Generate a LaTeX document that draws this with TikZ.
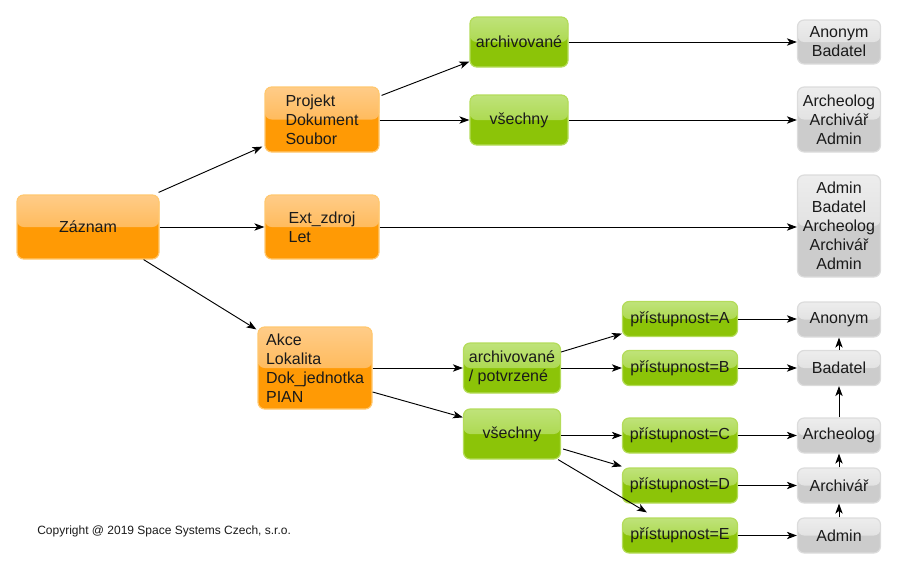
\documentclass[tikz,border=0pt]{standalone}
\usepackage{fontspec}
\setmainfont{Liberation Sans}
\usetikzlibrary{arrows.meta,calc}
\definecolor{orTop}{HTML}{FFCC88}
\definecolor{orMid}{HTML}{FFAA33}
\definecolor{orBot}{HTML}{FF9A05}
\definecolor{orLine}{HTML}{FFC870}
\definecolor{grTop}{HTML}{BFE37A}
\definecolor{grMid}{HTML}{9CD02A}
\definecolor{grBot}{HTML}{8CC408}
\definecolor{grLine}{HTML}{B4DC5A}
\definecolor{gyTop}{HTML}{EDEDED}
\definecolor{gyMid}{HTML}{D8D8D8}
\definecolor{gyBot}{HTML}{CCCCCC}
\definecolor{gyLine}{HTML}{DCDCDC}
\definecolor{txt}{HTML}{1A1A1A}
\tikzset{
  sz/.style 2 args={minimum width=#1*0.75pt, minimum height=#2*0.75pt},
  box/.style={rounded corners=5pt, inner sep=0pt, line width=0.9pt, text=txt,
    font={\fontsize{12}{14.25}\selectfont}},
  obox/.style={box, align=left, draw=orLine, fill=orBot,
    path picture={\fill[top color=orTop, bottom color=orMid]
      (path picture bounding box.north west) rectangle (path picture bounding box.east);}},
  gbox/.style={box, align=left, draw=grLine, fill=grBot,
    path picture={\fill[top color=grTop, bottom color=grMid]
      (path picture bounding box.north west) rectangle (path picture bounding box.east);}},
  ybox/.style={box, align=center, draw=gyLine, fill=gyBot,
    path picture={\fill[top color=gyTop, bottom color=gyMid]
      (path picture bounding box.north west) rectangle (path picture bounding box.east);}},
  arr/.style={-{Stealth[length=7.5pt,width=5.5pt,inset=2pt]}, line width=0.7pt, black}
}
\begin{document}
\begin{tikzpicture}[x=0.75pt,y=-0.75pt]
\useasboundingbox (0,0) rectangle (897,569);
% orange
\node[obox, sz={142}{64}] (zaz) at (88,227) {Záznam};
\node[obox, sz={114}{65}] (proj) at (322,119.5) {Projekt\\Dokument\\Soubor};
\node[obox, sz={114}{64}] (ext) at (322,227) {Ext\_zdroj\\Let};
\node[obox, sz={114}{82}] (akce) at (315,368) {Akce\\Lokalita\\Dok\_jednotka\\PIAN};
% green
\node[gbox, sz={98}{50}] (arch1) at (519,42) {archivované};
\node[gbox, sz={98}{50}] (vse1) at (519,120) {všechny};
\node[gbox, sz={97}{50}] (ap) at (512,368) {archivované\\/ potvrzené};
\node[gbox, sz={97}{50}] (vse2) at (512,434) {všechny};
\node[gbox, sz={115}{35}] (pA) at (680,319) {přístupnost=A};
\node[gbox, sz={115}{35}] (pB) at (680,368) {přístupnost=B};
\node[gbox, sz={115}{35}] (pC) at (680,435.5) {přístupnost=C};
\node[gbox, sz={115}{35}] (pD) at (680,485.5) {přístupnost=D};
\node[gbox, sz={115}{35}] (pE) at (680,535.5) {přístupnost=E};
% gray
\node[ybox, sz={83}{44}] (gAB) at (839,42) {Anonym\\Badatel};
\node[ybox, sz={83}{65}] (gAAA) at (839,119.5) {Archeolog\\Archivář\\Admin};
\node[ybox, sz={83}{102}] (gbig) at (839,226) {Admin\\Badatel\\Archeolog\\Archivář\\Admin};
\node[ybox, sz={83}{35}] (gA) at (839,319.5) {Anonym};
\node[ybox, sz={83}{35}] (gB) at (839,368) {Badatel};
\node[ybox, sz={83}{35}] (gC) at (839,435.5) {Archeolog};
\node[ybox, sz={83}{35}] (gD) at (839,485.5) {Archivář};
\node[ybox, sz={83}{35}] (gE) at (839,535.5) {Admin};
% copyright
\node[anchor=west, inner sep=0pt, text=txt, font={\fontsize{9}{11}\selectfont}] (copy) at (37,531) {Copyright @ 2019 Space Systems Czech, s.r.o.};
% arrows
\draw[arr] ([xshift=-0.75pt,yshift=1.5pt]zaz.north east) -- ([xshift=-1.5pt,yshift=4.5pt]proj.south west);
\draw[arr] (zaz.east) -- (ext.west);
\draw[arr] ([xshift=-12pt]zaz.south east) -- ([xshift=-0.75pt,yshift=-2.25pt]akce.north west);
\draw[arr] ([xshift=1.5pt,yshift=-6.75pt]proj.north east) -- ([yshift=4.5pt]arch1.south west);
\draw[arr] (proj.east |- vse1.west) -- (vse1.west);
\draw[arr] (arch1.east) -- (gAB.west);
\draw[arr] (vse1.east) -- (vse1.east -| gAAA.west);
\draw[arr] (ext.east) -- (ext.east -| gbig.west);
\draw[arr] (akce.east) -- (ap.west);
\draw[arr] ([yshift=-18pt]akce.east) -- ([yshift=-6.75pt]vse2.north west);
\draw[arr] ([yshift=12pt]ap.east) -- ([yshift=2.6pt]pA.south west);
\draw[arr] (ap.east) -- (pB.west);
\draw[arr] (vse2.east |- pC.west) -- (pC.west);
\draw[arr] ([xshift=1.5pt,yshift=-11.25pt]vse2.east) -- ([yshift=0.75pt]pD.north west);
\draw[arr] ([xshift=-2.25pt]vse2.south east) -- ([xshift=18.75pt,yshift=3.75pt]pE.north west);
\draw[arr] (pA.east) -- (pA.east -| gA.west);
\draw[arr] (pB.east) -- (gB.west);
\draw[arr] (pC.east) -- (gC.west);
\draw[arr] (pD.east) -- (gD.west);
\draw[arr] (pE.east) -- (gE.west);
\draw[arr] (gB.north) -- (gA.south);
\draw[arr] (gC.north) -- (gB.south);
\draw[arr] (gD.north) -- (gC.south);
\draw[arr] (gE.north) -- (gD.south);
\end{tikzpicture}
\end{document}
